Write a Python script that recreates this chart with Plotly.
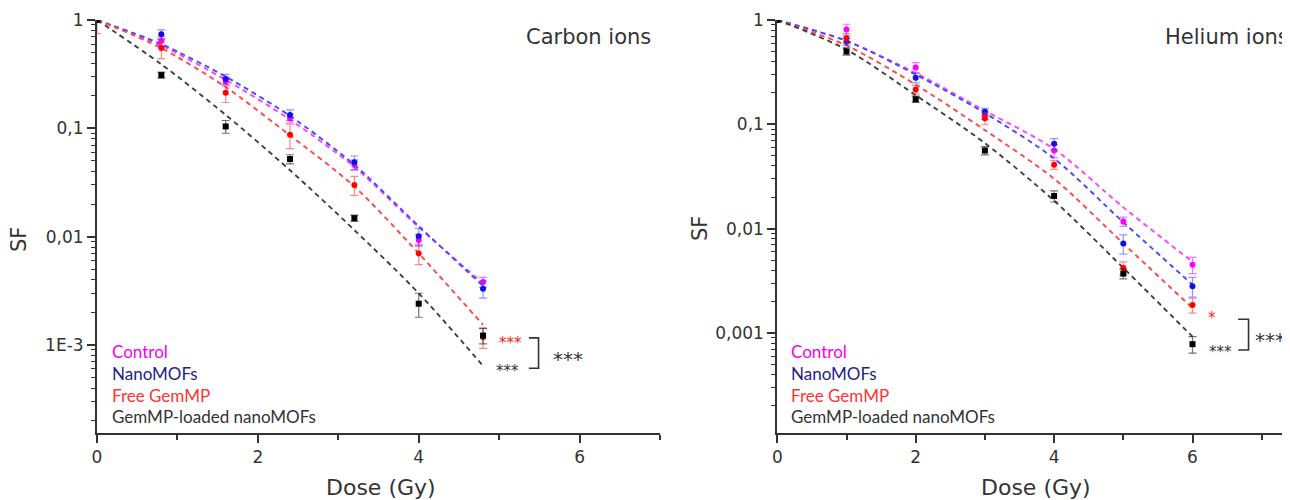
import math
import plotly.graph_objects as go

# ---------------- data: Carbon ions ----------------
dose_c = [0, 0.8, 1.6, 2.4, 3.2, 4.0, 4.8]
c_control = [1, 0.64, 0.27, 0.124, 0.046, 0.0093, 0.0038]
c_control_err = [0.04, 0.06, 0.025, 0.012, 0.005, 0.0012, 0.0004]
c_nano = [1, 0.74, 0.285, 0.133, 0.0485, 0.0101, 0.0033]
c_nano_err = [0.03, 0.07, 0.03, 0.015, 0.007, 0.0018, 0.0006]
c_free = [1, 0.55, 0.213, 0.087, 0.030, 0.0070, 0.00118]
c_free_err = [0.25, 0.11, 0.04, 0.022, 0.006, 0.0015, 0.00025]
c_loaded = [1, 0.31, 0.104, 0.052, 0.0148, 0.0024, 0.00122]
c_loaded_err = [0.02, 0.02, 0.014, 0.005, 0.001, 0.0006, 0.0002]
c_fit_control = [1, 0.58, 0.28, 0.12, 0.044, 0.0122, 0.0037]
c_fit_nano = [1, 0.60, 0.30, 0.13, 0.046, 0.0125, 0.0035]
c_fit_free = [1, 0.55, 0.24, 0.086, 0.029, 0.0070, 0.00153]
c_fit_loaded = [1, 0.39, 0.133, 0.041, 0.0115, 0.0030, 0.00064]

# ---------------- data: Helium ions ----------------
dose_h = [0, 1, 2, 3, 4, 5, 6]
h_control = [1, 0.81, 0.35, 0.123, 0.056, 0.0117, 0.0045]
h_control_err = [0.03, 0.1, 0.04, 0.012, 0.008, 0.0012, 0.0008]
h_nano = [1, 0.62, 0.28, 0.132, 0.065, 0.0072, 0.0028]
h_nano_err = [0.02, 0.05, 0.03, 0.01, 0.008, 0.0015, 0.0006]
h_free = [1, 0.67, 0.216, 0.114, 0.041, 0.0042, 0.00185]
h_free_err = [0.03, 0.07, 0.02, 0.015, 0.004, 0.0006, 0.0003]
h_loaded = [1, 0.50, 0.174, 0.056, 0.0205, 0.0037, 0.00078]
h_loaded_err = [0.02, 0.04, 0.012, 0.005, 0.0025, 0.0004, 0.00014]
h_fit_control = [1, 0.63, 0.31, 0.135, 0.058, 0.016, 0.0048]
h_fit_nano = [1, 0.63, 0.30, 0.128, 0.047, 0.0115, 0.0029]
h_fit_free = [1, 0.57, 0.24, 0.088, 0.030, 0.0072, 0.00173]
h_fit_loaded = [1, 0.52, 0.19, 0.066, 0.0185, 0.0042, 0.00092]

# significance marks
c_bracket_x = [5.37, 5.49, 5.49, 5.37]
c_bracket_y = [0.00116, 0.00116, 0.000608, 0.000608]
h_bracket_x = [6.66, 6.81, 6.81, 6.66]
h_bracket_y = [0.00135, 0.00135, 0.000686, 0.000686]
c_stars = [(5.14, 0.00111, "***", "#FF2020", 15), (5.10, 0.00061, "***", "#333333", 15),
           (5.85, 0.00081, "***", "#333333", 20)]
h_stars = [(6.28, 0.00149, "*", "#FF2020", 15), (6.40, 0.00070, "***", "#333333", 15),
           (6.87, 0.00094, "***", "#333333", 20)]

series_names = ["Control", "NanoMOFs", "Free GemMP", "GemMP-loaded nanoMOFs"]
marker_colors = ["#FF00FF", "#1010E0", "#FF0000", "#000000"]
fit_colors = ["#FF40FF", "#4848FF", "#FF4848", "#404040"]
err_colors = ["rgba(255,0,255,0.55)", "rgba(60,60,255,0.55)", "rgba(255,40,40,0.55)", "rgba(0,0,0,0.55)"]
label_colors = ["#F000F0", "#22228C", "#FF3333", "#333333"]
symbols = ["circle", "circle", "circle", "square"]

# y tick labels
c_tickvals = [1, 0.1, 0.01, 0.001]
c_ticktext = ["1", "0,1", "0,01", "1E-3"]
h_tickvals = [1, 0.1, 0.01, 0.001]
h_ticktext = ["1", "0,1", "0,01", "0,001"]

# the page body adds an 8px offset; positions below are in window pixels
OFF = 8
W, H = 1290 - OFF, 500 - OFF
LX0, LX1 = 97, 660
RX0, RX1 = 777.3, 1290
PT, PB = 20, 433

fig = go.Figure()

def add_panel(xa, ya, dose, vals, errs, fits):
    for i in range(4):
        fig.add_trace(go.Scatter(x=dose, y=fits[i], mode="lines",
                                 line=dict(color=fit_colors[i], width=1.9, dash="5px,4px", shape="spline", smoothing=0.8),
                                 xaxis=xa, yaxis=ya, showlegend=False, hoverinfo="skip"))
    for i in range(4):
        fig.add_trace(go.Scatter(x=dose, y=vals[i], mode="markers",
                                 marker=dict(color=marker_colors[i], size=6, symbol=symbols[i]),
                                 error_y=dict(type="data", array=errs[i], color=err_colors[i], thickness=1.2, width=4),
                                 xaxis=xa, yaxis=ya, showlegend=False, name=series_names[i]))

add_panel("x", "y", dose_c, [c_control, c_nano, c_free, c_loaded],
          [c_control_err, c_nano_err, c_free_err, c_loaded_err],
          [c_fit_control, c_fit_nano, c_fit_free, c_fit_loaded])
add_panel("x2", "y2", dose_h, [h_control, h_nano, h_free, h_loaded],
          [h_control_err, h_nano_err, h_free_err, h_loaded_err],
          [h_fit_control, h_fit_nano, h_fit_free, h_fit_loaded])

fig.add_trace(go.Scatter(x=c_bracket_x, y=c_bracket_y, mode="lines", line=dict(color="#333333", width=1.6),
                         xaxis="x", yaxis="y", showlegend=False, hoverinfo="skip"))
fig.add_trace(go.Scatter(x=h_bracket_x, y=h_bracket_y, mode="lines", line=dict(color="#333333", width=1.6),
                         xaxis="x2", yaxis="y2", showlegend=False, hoverinfo="skip", cliponaxis=False))

annotations = []
for (sx, sy, st, sc, ss) in c_stars:
    annotations.append(dict(x=sx, y=math.log10(sy), xref="x", yref="y", text=st, showarrow=False,
                            font=dict(family="DejaVu Sans", size=ss, color=sc), yshift=-ss * 0.22))
for k, (sx, sy, st, sc, ss) in enumerate(h_stars):
    annotations.append(dict(x=sx, y=math.log10(sy), xref="x2", yref="y2", text=st, showarrow=False,
                            xanchor="left" if k == 2 else "center",
                            font=dict(family="DejaVu Sans", size=ss, color=sc), yshift=-ss * 0.22))

def px(x):
    return (x - OFF) / W

def py(y):
    return (H - (y - OFF)) / H

for i, name in enumerate(series_names):
    for x0 in (110, 789):
        annotations.append(dict(x=px(x0), y=py(351.5 + 21.8 * i), xref="paper", yref="paper", text=name,
                                showarrow=False, xanchor="left", yanchor="middle",
                                font=dict(family="Lato", size=17, color=label_colors[i])))

annotations.append(dict(x=px(653), y=py(37), xref="paper", yref="paper", text="Carbon ions", showarrow=False,
                        xanchor="right", yanchor="middle", font=dict(family="DejaVu Sans", size=21, color="#333333")))
annotations.append(dict(x=px(1163), y=py(37), xref="paper", yref="paper", text="Helium ions", showarrow=False,
                        xanchor="left", yanchor="middle", font=dict(family="DejaVu Sans", size=21, color="#333333")))
for (tx, ty) in ((19, 240), (700, 229)):
    annotations.append(dict(x=px(tx), y=py(ty), xref="paper", yref="paper", text="SF", showarrow=False, textangle=-90,
                            xanchor="center", yanchor="middle", font=dict(family="DejaVu Sans", size=21, color="#333333")))
for tx in (381, 1036):
    annotations.append(dict(x=px(tx), y=py(487), xref="paper", yref="paper", text="Dose (Gy)", showarrow=False,
                            xanchor="center", yanchor="middle", font=dict(family="DejaVu Sans", size=22, color="#333333")))

def minor_vals(lo_exp):
    v = []
    for e in range(lo_exp, 0):
        for m in range(2, 10):
            v.append(m * 10 ** e)
    return v

axcol = "#333333"
tickfont = dict(family="DejaVu Sans", size=17, color="#333333")
c_xrange = [0, 7]
h_xrange = [0, (RX1 - RX0) / 69.2]
c_yrange = [-(PB - PT) / 108.3, 0]
h_yrange = [-(PB - PT) / 104.3, 0]
ydom = [py(PB), py(PT)]

common = dict(showgrid=False, zeroline=False, automargin=False, tickcolor=axcol, tickwidth=1.5)

fig.update_layout(
    width=W, height=H, margin=dict(l=0, r=0, t=0, b=0, autoexpand=False),
    paper_bgcolor="white", plot_bgcolor="white",
    annotations=annotations,
    xaxis=dict(domain=[px(LX0), px(LX1)], range=c_xrange, anchor="y", **common,
               showline=True, linecolor=axcol, linewidth=2, ticks="outside", ticklen=8,
               tickvals=[0, 2, 4, 6], tickfont=tickfont,
               minor=dict(tickvals=[1, 3, 5, 7], ticks="outside", ticklen=5, tickwidth=1.5, tickcolor=axcol, showgrid=False)),
    yaxis=dict(domain=ydom, type="log", range=c_yrange, anchor="x", **common,
               showline=True, linecolor=axcol, linewidth=2, ticks="outside", ticklen=8,
               tickvals=c_tickvals, ticktext=c_ticktext, tickfont=tickfont,
               minor=dict(tickvals=minor_vals(-4), ticks="outside", ticklen=4, tickwidth=1.2, tickcolor=axcol, showgrid=False)),
    xaxis3=dict(overlaying="x", side="top", anchor="y", range=c_xrange, **common,
                showline=True, linecolor=axcol, linewidth=2, ticks="inside", ticklen=6,
                tickvals=[1, 2, 3, 4, 5, 6], showticklabels=False),
    yaxis3=dict(overlaying="y", side="right", anchor="x", type="log", range=c_yrange, **common,
                showline=True, linecolor=axcol, linewidth=2, ticks="inside", ticklen=8,
                tickvals=c_tickvals, showticklabels=False,
                minor=dict(tickvals=minor_vals(-4), ticks="inside", ticklen=4, tickwidth=1.2, tickcolor=axcol, showgrid=False)),
    xaxis2=dict(domain=[px(RX0), 1.0], range=h_xrange, anchor="y2", **common,
                showline=True, linecolor=axcol, linewidth=2, ticks="outside", ticklen=8,
                tickvals=[0, 2, 4, 6], tickfont=tickfont,
                minor=dict(tickvals=[1, 3, 5, 7], ticks="outside", ticklen=5, tickwidth=1.5, tickcolor=axcol, showgrid=False)),
    yaxis2=dict(domain=ydom, type="log", range=h_yrange, anchor="x2", **common,
                showline=True, linecolor=axcol, linewidth=2, ticks="outside", ticklen=8,
                tickvals=h_tickvals, ticktext=h_ticktext, tickfont=tickfont,
                minor=dict(tickvals=minor_vals(-4), ticks="outside", ticklen=4, tickwidth=1.2, tickcolor=axcol, showgrid=False)),
    xaxis4=dict(overlaying="x2", side="top", anchor="y2", range=h_xrange, **common,
                showline=True, linecolor=axcol, linewidth=2, ticks="inside", ticklen=6,
                tickvals=[1, 2, 3, 4, 5, 6, 7], showticklabels=False),
    yaxis4=dict(overlaying="y2", side="right", anchor="free", position=1.0, type="log", range=h_yrange,
                **common, showline=False, ticks="inside", ticklen=5,
                tickvals=h_tickvals, showticklabels=False),
)

fig.write_html("out.html")
